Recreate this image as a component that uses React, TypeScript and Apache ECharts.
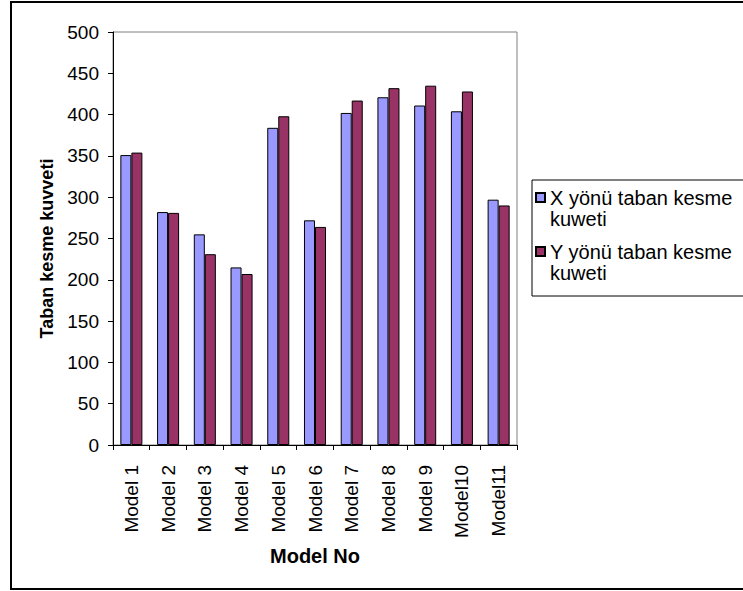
import React, { useEffect, useRef } from "react";
import * as echarts from "echarts";

// Base shear force per model, in both directions
const categories = [
  "Model 1",
  "Model 2",
  "Model 3",
  "Model 4",
  "Model 5",
  "Model 6",
  "Model 7",
  "Model 8",
  "Model 9",
  "Model10",
  "Model11",
];
const xDirection = [351, 282, 255, 215, 384, 272, 402, 421, 411, 404, 297];
const yDirection = [354, 281, 231, 207, 398, 264, 417, 432, 435, 428, 290];

const seriesNames = ["X yönü taban kesme\nkuweti", "Y yönü taban kesme\nkuweti"];
const yTicks = { min: 0, max: 500, interval: 50 };

const FONT = "Arial, 'Liberation Sans', Helvetica, sans-serif";

// Legend marker: square sits level with the first text line of a two-line label
const legendIcon =
  "path://M0,0L0.001,0M0,6H9V15H0ZM0,42L0.001,42";

export default function App() {
  const ref = useRef<HTMLDivElement>(null);

  useEffect(() => {
    if (!ref.current) return;
    const chart = echarts.init(ref.current, undefined, { renderer: "svg" });
    chart.setOption({
      animation: false,
      backgroundColor: "#ffffff",
      textStyle: { fontFamily: FONT },
      graphic: [
        {
          type: "rect",
          shape: { x: 11, y: 2, width: 742, height: 587 },
          style: { fill: "none", stroke: "#000000", lineWidth: 2 },
          silent: true,
        },
      ],
      grid: {
        left: 113,
        top: 32,
        right: 226,
        bottom: 146,
        show: true,
        borderColor: "#808080",
        borderWidth: 1,
        backgroundColor: "#ffffff",
      },
      legend: {
        orient: "vertical",
        left: 532,
        top: 180,
        padding: [6, 14, 12, 3],
        itemGap: 10,
        itemWidth: 9,
        itemHeight: 42,
        icon: legendIcon,
        borderColor: "#000000",
        borderWidth: 1,
        backgroundColor: "#ffffff",
        textStyle: {
          fontFamily: FONT,
          fontSize: 20,
          lineHeight: 21,
          color: "#000000",
        },
        data: seriesNames,
      },
      xAxis: {
        type: "category",
        data: categories,
        name: "Model No",
        nameLocation: "middle",
        nameGap: 99,
        nameTextStyle: {
          fontFamily: FONT,
          fontSize: 20,
          fontWeight: "bold",
          color: "#000000",
        },
        axisLine: { lineStyle: { color: "#000000", width: 1 } },
        axisTick: {
          show: true,
          length: 5,
          inside: false,
          alignWithLabel: false,
          lineStyle: { color: "#000000" },
        },
        axisLabel: {
          rotate: 90,
          margin: 20,
          interval: 0,
          fontFamily: FONT,
          fontSize: 19,
          color: "#000000",
        },
        splitLine: { show: false },
      },
      yAxis: {
        type: "value",
        min: yTicks.min,
        max: yTicks.max,
        interval: yTicks.interval,
        name: "Taban kesme kuvveti",
        nameLocation: "middle",
        nameGap: 56,
        nameTextStyle: {
          fontFamily: FONT,
          fontSize: 18,
          fontWeight: "bold",
          color: "#000000",
          padding: [0, 20, 0, 0],
        },
        axisLine: { show: true, lineStyle: { color: "#000000", width: 1 } },
        axisTick: {
          show: true,
          length: 5,
          inside: false,
          lineStyle: { color: "#000000" },
        },
        axisLabel: {
          margin: 14,
          fontFamily: FONT,
          fontSize: 19,
          color: "#000000",
        },
        splitLine: { show: false },
      },
      series: [
        {
          name: seriesNames[0],
          type: "bar",
          data: xDirection,
          barGap: "0%",
          barCategoryGap: "40%",
          itemStyle: { color: "#9999FF", borderColor: "#000000", borderWidth: 1 },
        },
        {
          name: seriesNames[1],
          type: "bar",
          data: yDirection,
          barGap: "0%",
          barCategoryGap: "40%",
          itemStyle: { color: "#993366", borderColor: "#000000", borderWidth: 1 },
        },
      ],
    });
    return () => chart.dispose();
  }, []);

  return (
    <div
      ref={ref}
      style={{ position: "absolute", left: 0, top: 0, width: 743, height: 591 }}
    />
  );
}
